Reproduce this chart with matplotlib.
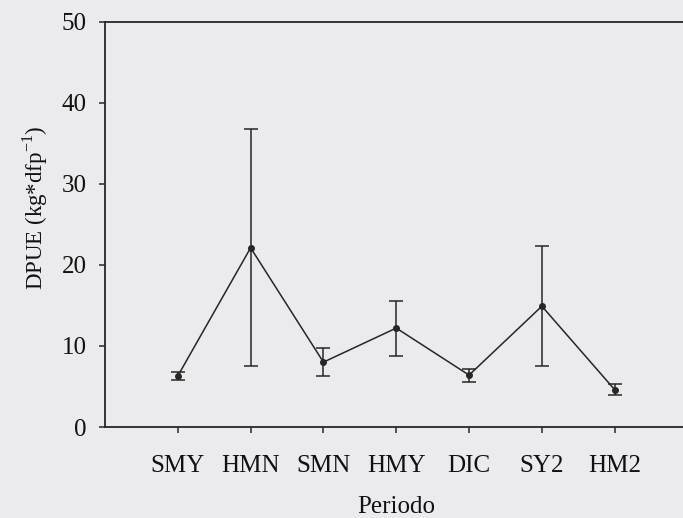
import matplotlib.pyplot as plt
import numpy as np

# DPUE por periodo (media +/- error)
periodos = ['SMY', 'HMN', 'SMN', 'HMY', 'DIC', 'SY2', 'HM2']
dpue = [6.3, 22.1, 8.0, 12.2, 6.4, 14.9, 4.6]
err = [0.45, 14.6, 1.7, 3.4, 0.8, 7.4, 0.7]
yticks = [0, 10, 20, 30, 40, 50]

plt.rcParams['font.family'] = 'Liberation Serif'
plt.rcParams['mathtext.fontset'] = 'custom'
plt.rcParams['mathtext.rm'] = 'Liberation Serif'

bg = '#ebebee'
ink = '#262626'

fig = plt.figure(figsize=(6.83, 5.18), dpi=100, facecolor=bg)
ax = fig.add_axes([105 / 683, 91 / 518, 582.5 / 683, 405.4 / 518])
ax.set_facecolor(bg)

x = np.arange(len(periodos))
ax.errorbar(x, dpue, yerr=err, color=ink, lw=1.1, marker='o', ms=4,
            mfc=ink, mec=ink, ecolor=ink, elinewidth=1.1, capsize=5, capthick=1.1)

ax.set_xlim(-1, 7)
ax.set_ylim(0, 50)
ax.set_xticks(x)
ax.set_xticklabels(periodos)
ax.set_yticks(yticks)

for s in ['left', 'bottom', 'top']:
    ax.spines[s].set_color(ink)
    ax.spines[s].set_linewidth(1.3)
ax.spines['right'].set_visible(False)
ax.tick_params(colors=ink, labelcolor='#111111', labelsize=18, length=4, width=1.1,
               direction='out')
ax.tick_params(axis='x', pad=16)
ax.tick_params(axis='y', pad=9)

ax.set_xlabel('Periodo', fontsize=18, color='#111111', labelpad=14)
ax.set_ylabel(r'DPUE (kg*dfp$^{\mathrm{-1}}$)', fontsize=16.5, color='#111111')
ax.yaxis.set_label_coords(-0.095, 0.54)

plt.savefig('out.png', dpi=100, facecolor=bg)
